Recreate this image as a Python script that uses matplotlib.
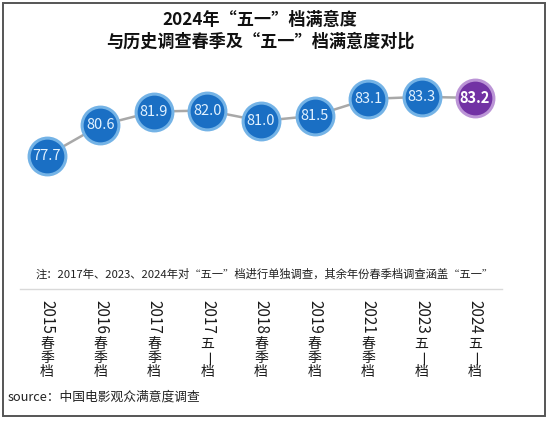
import matplotlib
matplotlib.use('Agg')
import matplotlib.pyplot as plt
from matplotlib.patches import Rectangle

plt.rcParams['font.family'] = ['Noto Sans CJK SC', 'DejaVu Sans']

labels = ['2015春季档', '2016春季档', '2017春季档', '2017五一档', '2018春季档',
          '2019春季档', '2021春季档', '2023五一档', '2024五一档']
scores = [77.7, 80.6, 81.9, 82.0, 81.0, 81.5, 83.1, 83.3, 83.2]
title = '2024年“五一”档满意度\n与历史调查春季及“五一”档满意度对比'
note = '注：2017年、2023、2024年对“五一”档进行单独调查，其余年份春季档调查涵盖“五一”'
source = 'source：中国电影观众满意度调查'

blue, blue_edge = '#1a6fc4', '#74b3e6'
purple, purple_edge = '#7232a4', '#bb94d6'

fig = plt.figure(figsize=(5.5, 4.21), dpi=100)
ax = fig.add_axes([0.0368, 0.3135, 0.8755, 0.5487])

x = list(range(len(scores)))
ax.plot(x, scores, color='#a8a8a8', lw=1.8, zorder=1)
for i, v in enumerate(scores):
    last = i == len(scores) - 1
    ax.plot(i, v, 'o', ms=26.5, mfc=purple if last else blue,
            mec=purple_edge if last else blue_edge, mew=2.2, zorder=2)
    ax.text(i, v, f'{v:.1f}', ha='center', va='center', zorder=3,
            fontsize=10.5, color='white' if last else '#e2f2ff',
            fontweight='bold' if last else 'normal')

ax.set_xlim(-0.5, 8.5)
ax.set_ylim(65, 87)
ax.set_xticks([])
ax.set_yticks([])
for s in ['top', 'left', 'right']:
    ax.spines[s].set_visible(False)
ax.spines['bottom'].set_color('#d9d9d9')
ax.spines['bottom'].set_linewidth(1.0)

# vertical category labels: digits turned, CJK upright
px = 0.72
for i, lab in enumerate(labels):
    digits = lab[:4]
    rest = lab[4:]
    ax.annotate(digits, xy=(i, 0), xycoords=('data', 'axes fraction'),
                xytext=(0, -11 * px), textcoords='offset points',
                rotation=-90, ha='center', va='top', fontsize=11, color='#1a1a1a')
    for j, ch in enumerate(rest):
        y = -(48 + 7 + 14 * j) * px
        ax.annotate(ch, xy=(i, 0), xycoords=('data', 'axes fraction'),
                    xytext=(0, y), textcoords='offset points',
                    rotation=-90 if ch == '一' else 0,
                    ha='center', va='center', fontsize=10, color='#1a1a1a')

fig.text(0.473, 0.926, title, ha='center', va='center', fontsize=12.3,
         fontweight='bold', linespacing=1.25, color='#111111')
fig.text(0.482, 0.349, note, ha='center', va='center', fontsize=8.15, color='#222222')
fig.text(0.0145, 0.057, source, ha='left', va='center', fontsize=9.2, color='#222222')

fig.patches.append(Rectangle((3 / 550, 5 / 421), 542 / 550, 413 / 421,
                             transform=fig.transFigure, fill=False,
                             ec='#555555', lw=1.4))

fig.savefig('out.png', dpi=100)
